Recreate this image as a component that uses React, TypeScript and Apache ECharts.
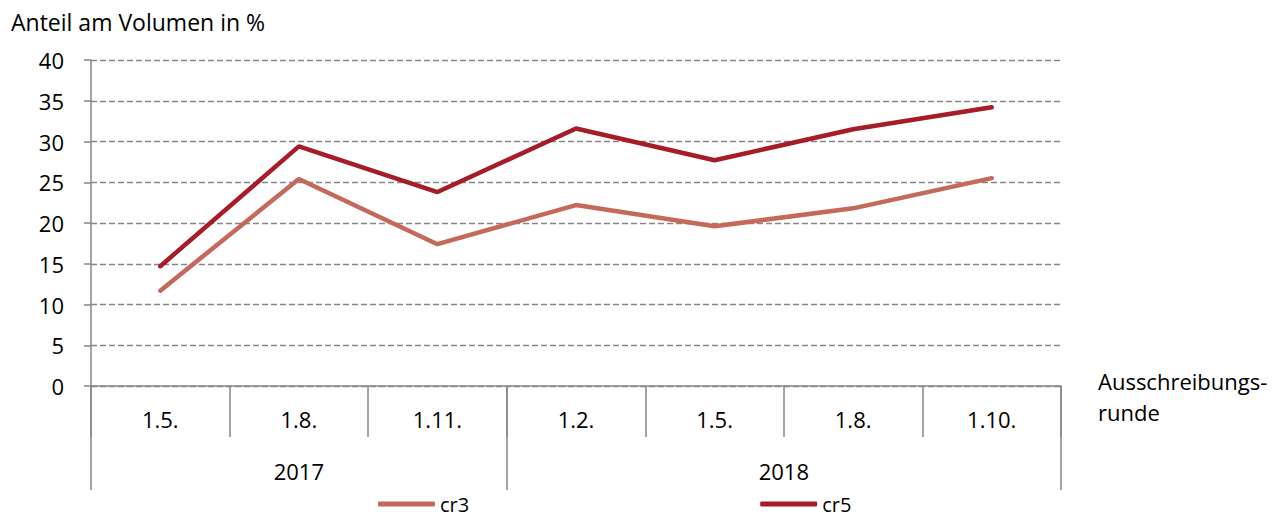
import React, { useEffect, useRef } from "react";
import * as echarts from "echarts";

const categories = ["1.5.", "1.8.", "1.11.", "1.2.", "1.5.", "1.8.", "1.10."];
const cr3 = [11.7, 25.4, 17.4, 22.2, 19.6, 21.8, 25.5];
const cr5 = [14.7, 29.4, 23.8, 31.6, 27.7, 31.5, 34.2];
const yearLabels: Record<string, string> = { "1.5": "2017", "5": "2018" };
const yearStartIndices = [0, 3];

const FONT = "Open Sans";
const GREY = "#878787";

export default function App() {
  const ref = useRef<HTMLDivElement>(null);
  useEffect(() => {
    const chart = echarts.init(ref.current!, undefined, { renderer: "svg" });
    chart.setOption({
      animation: false,
      textStyle: { fontFamily: FONT, color: "#000" },
      title: [
        {
          text: "Anteil am Volumen in %",
          left: 6,
          top: 5,
          textStyle: { fontFamily: FONT, fontSize: 23, fontWeight: "normal", color: "#000" },
        },
        {
          text: "Ausschreibungs-\nrunde",
          left: 1093,
          top: 360,
          textStyle: { fontFamily: FONT, fontSize: 22, fontWeight: "normal", color: "#000", lineHeight: 31 },
        },
      ],
      grid: { left: 91, right: 224, top: 60, bottom: 134 },
      legend: {
        left: 378,
        top: 494,
        padding: 0,
        itemGap: 291,
        itemWidth: 57,
        itemHeight: 5,
        icon: "roundRect",
        textStyle: { fontFamily: FONT, fontSize: 20, color: "#000", lineHeight: 18, padding: [0, 0, 0, 0] },
        itemStyle: { borderWidth: 0 },
        data: ["cr3", "cr5"],
      },
      xAxis: [
        {
          type: "category",
          data: categories,
          boundaryGap: true,
          axisLine: { show: true, lineStyle: { color: GREY, width: 1.5 } },
          axisTick: { show: true, length: 51, lineStyle: { color: GREY, width: 1.5 } },
          axisLabel: { margin: 22, fontSize: 22, fontFamily: FONT, color: "#000", interval: 0 },
          splitLine: { show: false },
        },
        {
          type: "value",
          min: 0,
          max: 7,
          interval: 0.5,
          position: "bottom",
          axisLine: { show: false },
          axisTick: { show: false },
          splitLine: { show: false },
          axisLabel: {
            margin: 74,
            fontSize: 22,
            fontFamily: FONT,
            color: "#000",
            showMinLabel: true,
            showMaxLabel: true,
            formatter: (v: number) => yearLabels[String(v)] || "",
          },
        },
        {
          type: "category",
          data: categories,
          boundaryGap: true,
          position: "bottom",
          axisLine: { show: false },
          axisLabel: { show: false },
          splitLine: { show: false },
          axisTick: {
            show: true,
            length: 104,
            interval: (i: number) => yearStartIndices.indexOf(i) >= 0,
            lineStyle: { color: GREY, width: 1.5 },
          },
        },
      ],
      yAxis: {
        type: "value",
        min: 0,
        max: 40,
        interval: 5,
        axisLine: { show: true, lineStyle: { color: GREY, width: 1.5 } },
        axisTick: { show: true, length: 7, lineStyle: { color: GREY, width: 1.5 } },
        axisLabel: { margin: 27, fontSize: 22, fontFamily: FONT, color: "#000" },
        splitLine: { show: true, lineStyle: { color: GREY, type: [6, 3], width: 1.4 } },
      },
      series: [
        {
          name: "cr3",
          type: "line",
          data: cr3,
          xAxisIndex: 0,
          showSymbol: false,
          symbol: "none",
          color: "#C4695B",
          lineStyle: { width: 4.5, color: "#C4695B", cap: "round" },
        },
        {
          name: "cr5",
          type: "line",
          data: cr5,
          xAxisIndex: 0,
          showSymbol: false,
          symbol: "none",
          color: "#A61C27",
          lineStyle: { width: 4.5, color: "#A61C27", cap: "round" },
        },
      ],
    });
    return () => chart.dispose();
  }, []);
  return (
    <div
      ref={ref}
      style={{ position: "fixed", left: 0, top: 0, width: 1285, height: 520, background: "#fff" }}
    />
  );
}
